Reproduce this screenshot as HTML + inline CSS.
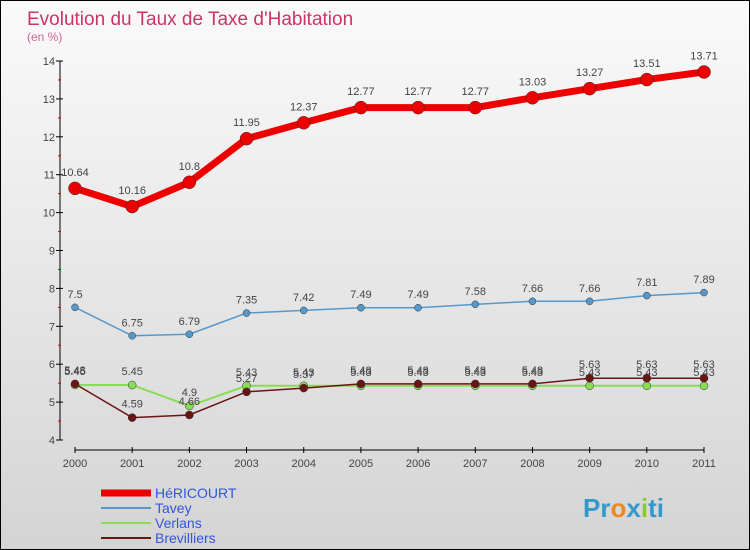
<!DOCTYPE html>
<html><head><meta charset="utf-8"><style>
body{margin:0}
#c{width:748px;height:548px;border:1px solid #000;background:linear-gradient(#fafafa,#d4d4d4);position:relative;font-family:"Liberation Sans",sans-serif;overflow:hidden}
</style></head><body>
<div id="c">
<svg width="748" height="548" id="s"></svg>
</div>
<script>
const years=["2000","2001","2002","2003","2004","2005","2006","2007","2008","2009","2010","2011"];
const yTicks=[4,5,6,7,8,9,10,11,12,13,14];
const hericourt=[10.64,10.16,10.8,11.95,12.37,12.77,12.77,12.77,13.03,13.27,13.51,13.71];
const tavey=[7.5,6.75,6.79,7.35,7.42,7.49,7.49,7.58,7.66,7.66,7.81,7.89];
const verlans=[5.45,5.45,4.9,5.43,5.43,5.43,5.43,5.43,5.43,5.43,5.43,5.43];
const brevilliers=[5.48,4.59,4.66,5.27,5.37,5.48,5.48,5.48,5.48,5.63,5.63,5.63];
const NS="http://www.w3.org/2000/svg";
const s=document.getElementById('s');
function X(i){return 74+i*(703-74)/11;}
function Y(v){return 439-(v-4)*37.9;}
function el(t,a,p){const e=document.createElementNS(NS,t);for(const k in a)e.setAttribute(k,a[k]);(p||s).appendChild(e);return e;}
let t=el('text',{x:26,y:24,fill:'#cc3366','font-size':19});t.textContent="Evolution du Taux de Taxe d'Habitation";

t=el('text',{x:26,y:40,fill:'#cc6699','font-size':12});t.textContent="(en %)";

let a=el('line',{x1:59,y1:Y(14),x2:59,y2:Y(4),stroke:'#000'});

a=el('line',{x1:X(0),y1:449,x2:X(11),y2:449,stroke:'#000'});

yTicks.forEach(v=>{el('line',{x1:55,x2:62,y1:Y(v),y2:Y(v),stroke:'#000'});
if(v<14)el('line',{x1:57,x2:60,y1:Y(v+0.5),y2:Y(v+0.5),stroke:'#d00'});
const l=el('text',{x:54,y:Y(v)+4,'text-anchor':'end','font-size':11,fill:'#444'});l.textContent=v;
});
years.forEach((y,i)=>{el('line',{x1:X(i),x2:X(i),y1:446,y2:452,stroke:'#000'});
const l=el('text',{x:X(i),y:466,'text-anchor':'middle','font-size':11,fill:'#444'});l.textContent=y;
});
function series(d,col,w,r,name){const g=el('g',{});
el('polyline',{points:d.map((v,i)=>X(i)+','+Y(v)).join(' '),fill:'none',stroke:col,'stroke-width':w},g);
d.forEach((v,i)=>{const c=el('circle',{cx:X(i),cy:Y(v),r:r,fill:col,stroke:'#333','stroke-width':0.5},g);

const l=el('text',{x:X(i),y:Y(v)-r-6,'text-anchor':'middle','font-size':11,fill:'#444'},g);l.textContent=v;});}
series(verlans,'#88dd55',2,4,'verlans-series');
series(brevilliers,'#6b1414',1.5,4,'brevilliers-series');
series(tavey,'#5599cc',1.5,3.5,'tavey-series');
series(hericourt,'#ee0000',7,6.5,'hericourt-series');
const leg=[['HéRICOURT','#ee0000',7],['Tavey','#5599cc',2],['Verlans','#88dd55',2],['Brevilliers','#6b1414',2]];
leg.forEach((L,i)=>{const g=el('g',{});
const y=492+i*15;el('line',{x1:100,x2:150,y1:y,y2:y,stroke:L[1],'stroke-width':L[2]},g);
const tx=el('text',{x:154,y:y+5,'font-size':14,fill:'#3355dd'},g);tx.textContent=L[0];});
const lg=el('text',{x:582,y:516,'font-size':26,'font-weight':'bold',fill:'#3399cc'});

lg.innerHTML='<tspan fill="#3399cc">Pr</tspan><tspan fill="#ee8822">o</tspan><tspan fill="#3399cc">x</tspan><tspan fill="#88cc22">i</tspan><tspan fill="#3399cc">ti</tspan>';
</script>
</body></html>
